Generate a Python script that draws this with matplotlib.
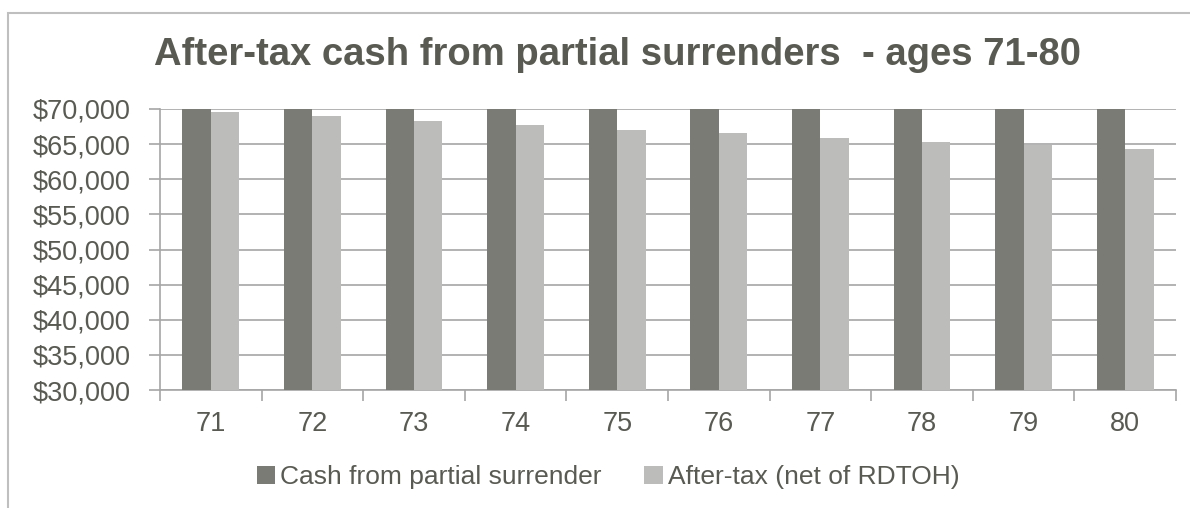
import matplotlib.pyplot as plt
from matplotlib.patches import Rectangle
from matplotlib.ticker import FuncFormatter, FixedLocator
import numpy as np

plt.rcParams['font.family'] = ['Liberation Sans', 'DejaVu Sans']

ages = ['71', '72', '73', '74', '75', '76', '77', '78', '79', '80']
cash = [70000, 70000, 70000, 70000, 70000, 70000, 70000, 70000, 70000, 70000]
after_tax = [69600, 68960, 68290, 67720, 67010, 66540, 65920, 65350, 64820, 64350]

dark = '#7a7b75'
light = '#bcbcba'
txt = '#595a52'
grid = '#a6a6a6'

fig = plt.figure(figsize=(11.9, 5.08), dpi=100)
ax = fig.add_axes([160 / 1190, 1 - 390 / 508, 1016 / 1190, 281 / 508])

# outer chart frame
fig.patches.append(Rectangle((8 / 1190, -0.1), 1.2, 1 - 13 / 508 + 0.1,
                             transform=fig.transFigure, fill=False,
                             edgecolor='#bfbfbf', linewidth=1.5))

x = np.arange(len(ages))
w = 0.28
ax.bar(x - w / 2, cash, w, color=dark, label='Cash from partial surrender', zorder=3)
ax.bar(x + w / 2, after_tax, w, color=light, label='After-tax (net of RDTOH)', zorder=3)

ax.set_xlim(-0.5, len(ages) - 0.5)
ax.set_ylim(30000, 70000)
ax.set_yticks(np.arange(30000, 70001, 5000))
ax.yaxis.set_major_formatter(FuncFormatter(lambda v, p: '${:,.0f}'.format(v)))
ax.yaxis.grid(True, color=grid, linewidth=1.2, zorder=0)

ax.set_xticks(x)
ax.set_xticklabels(ages)
ax.xaxis.set_minor_locator(FixedLocator(np.arange(-0.5, len(ages), 1.0)))
ax.tick_params(axis='x', which='major', length=0, pad=15, labelsize=19.5, labelcolor=txt)
ax.tick_params(axis='x', which='minor', length=8, width=1.2, color=grid, direction='out')
ax.tick_params(axis='y', length=8, width=1.2, color=grid, pad=13, labelsize=19.5, labelcolor=txt)

for s in ['top', 'right']:
    ax.spines[s].set_visible(False)
for s in ['left', 'bottom']:
    ax.spines[s].set_color(grid)
    ax.spines[s].set_linewidth(1.2)

fig.text(618 / 1190, 1 - 55 / 508, 'After-tax cash from partial surrenders  - ages 71-80',
         ha='center', va='center', fontsize=27.5, fontweight='bold', color=txt)

leg = fig.legend(loc='center', bbox_to_anchor=(608 / 1190, 1 - 477 / 508), ncol=2,
                 frameon=False, fontsize=19, handlelength=0.7, handleheight=0.7,
                 handletextpad=0.2, columnspacing=1.6)
for t in leg.get_texts():
    t.set_color(txt)

fig.savefig('out.png', dpi=100)
